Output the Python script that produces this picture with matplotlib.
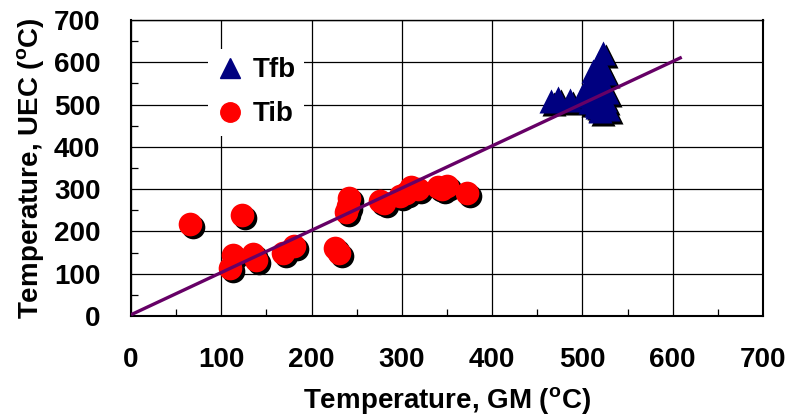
import matplotlib
matplotlib.use("Agg")
import matplotlib.pyplot as plt
import matplotlib.transforms as mtransforms
from matplotlib.lines import Line2D
from matplotlib.ticker import MultipleLocator

plt.rcParams['font.family'] = ['Liberation Sans', 'DejaVu Sans']
plt.rcParams['font.weight'] = 'bold'
plt.rcParams['mathtext.fontset'] = 'custom'
plt.rcParams['mathtext.rm'] = 'Liberation Sans:bold'
plt.rcParams['mathtext.it'] = 'Liberation Sans:bold'
plt.rcParams['mathtext.bf'] = 'Liberation Sans:bold'

# ---- data ----
tib_gm = [65, 110, 113, 123, 135, 138, 168, 180, 226, 230, 238, 240, 242,
          276, 280, 298, 305, 310, 318, 340, 350, 345, 372]
tib_uec = [217, 113, 145, 238, 146, 133, 148, 165, 160, 150, 245, 260, 278,
           272, 268, 283, 290, 305, 300, 305, 308, 300, 292]

tfb_gm = [465, 473, 486, 499, 505, 510, 515, 518, 520, 522, 523, 525, 525,
          527, 528, 512, 508, 516]
tfb_uec = [508, 515, 510, 520, 540, 560, 500, 600, 485, 545, 622, 575, 510,
           530, 490, 580, 505, 495]

fit_x = [0, 610]
fit_y = [3, 612]

x_ticks = [0, 100, 200, 300, 400, 500, 600, 700]
y_ticks = [0, 100, 200, 300, 400, 500, 600, 700]

# ---- figure ----
fig = plt.figure(figsize=(7.89, 4.18), dpi=100)
ax = fig.add_axes([131/789, 1 - 316/418, (763-131)/789, (316-20)/418])

ax.set_xlim(0, 700)
ax.set_ylim(0, 700)
ax.set_xticks(x_ticks)
ax.set_yticks(y_ticks)
ax.xaxis.set_minor_locator(MultipleLocator(50))
ax.yaxis.set_minor_locator(MultipleLocator(50))
ax.grid(True, which='major', color='black', linewidth=0.9)
ax.set_axisbelow(True)
ax.tick_params(which='major', direction='in', length=0, labelsize=20, pad=22)
ax.tick_params(axis='x', which='major', pad=22)
ax.tick_params(which='minor', direction='in', length=5, width=0.9, color='black')
for sp in ax.spines.values():
    sp.set_linewidth(1.5)
    sp.set_color('black')
ax.spines['top'].set_linewidth(1.0)

shadow = ax.transData + mtransforms.ScaledTranslation(3/100, -3/100, fig.dpi_scale_trans)

ms_c = 290
ms_t = 300
ax.scatter(tib_gm, tib_uec, s=ms_c, marker='o', color='black', linewidths=0,
           transform=shadow, zorder=3)
ax.scatter(tfb_gm, tfb_uec, s=ms_t, marker='^', color='black', linewidths=0,
           transform=shadow, zorder=3)
ax.scatter(tib_gm, tib_uec, s=ms_c, marker='o', color='#ff0000', linewidths=0, zorder=4)
ax.scatter(tfb_gm, tfb_uec, s=ms_t, marker='^', color='#000080', linewidths=0, zorder=4)

ax.plot(fit_x, fit_y, color='#660066', linewidth=2.4, zorder=5, solid_capstyle='butt')

ax.set_xlabel(r'Temperature, GM ($^{\mathrm{o}}$C)', fontsize=20, fontweight='bold', labelpad=9)
ax.set_ylabel(r'Temperature, UEC ($^{\mathrm{o}}$C)', fontsize=20, fontweight='bold', labelpad=6)

handles = [Line2D([], [], linestyle='none', marker='^', markersize=15, color='#000080'),
           Line2D([], [], linestyle='none', marker='o', markersize=14, color='#ff0000')]
leg = ax.legend(handles, ['Tfb', 'Tib'], loc='upper left',
                bbox_to_anchor=(208/789, 1 - 49/418), bbox_transform=fig.transFigure,
                frameon=True, facecolor='white', edgecolor='none', framealpha=1,
                fancybox=False, borderaxespad=0, borderpad=0.3, handlelength=1.0,
                handletextpad=0.3, labelspacing=0.65, prop={'size': 20, 'weight': 'bold'})
leg.set_zorder(6)

fig.savefig('out.png', dpi=100)
